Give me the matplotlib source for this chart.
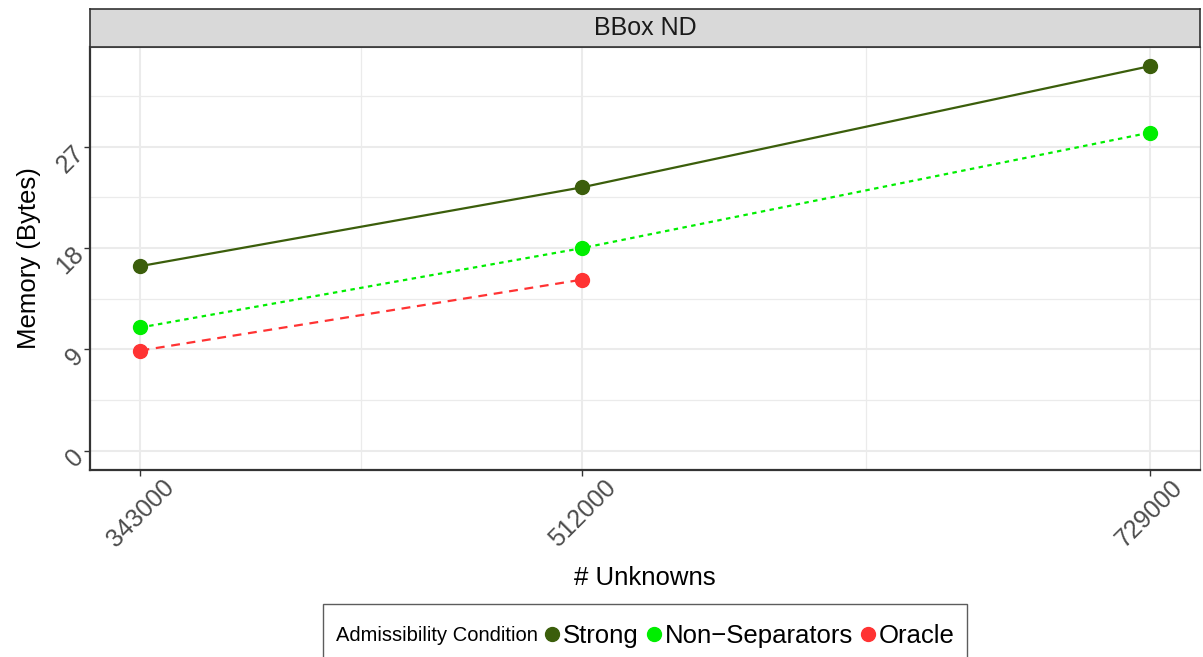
import matplotlib
matplotlib.use("Agg")
import matplotlib.pyplot as plt
from matplotlib.lines import Line2D
from matplotlib.offsetbox import DrawingArea
from matplotlib.ticker import FixedLocator
from matplotlib.transforms import ScaledTranslation

plt.rcParams["font.family"] = ["Liberation Sans", "DejaVu Sans"]

# data
unknowns = [343000, 512000, 729000]
strong = [16.4, 23.4, 34.15]
non_sep = [10.95, 18.0, 28.25]
oracle_x = [343000, 512000]
oracle = [8.9, 15.2]

y_ticks = [0, 9, 18, 27]
y_minor = [4.5, 13.5, 22.5, 31.5]
x_minor = [427500, 620500]

series = [
    ("Strong", unknowns, strong, "#3b5e0b", "-"),
    ("Non\u2212Separators", unknowns, non_sep, "#00ee00", (0, (2, 2))),
    ("Oracle", oracle_x, oracle, "#ff3333", (0, (4, 3))),
]

fig = plt.figure(figsize=(12.03, 6.57), dpi=100)
left, right = 90 / 1203, 1200 / 1203
bottom, top = 1 - 470 / 657, 1 - 47 / 657
ax = fig.add_axes([left, bottom, right - left, top - bottom])

grid_col = "#ebebeb"
ax.set_axisbelow(True)
for name, xs, ys, col, ls in series:
    ax.plot(xs, ys, color=col, linestyle=ls, linewidth=1.6, zorder=2)
    ax.plot(xs, ys, "o", color=col, markersize=10, zorder=3)

span = max(unknowns) - min(unknowns)
ax.set_xlim(min(unknowns) - 0.05 * span, max(unknowns) + 0.05 * span)
ymax = max(strong)
ax.set_ylim(-0.05 * ymax, ymax * 1.05)

ax.set_xticks(unknowns)
ax.set_xticklabels([str(u) for u in unknowns], rotation=45, ha="center",
                   va="top")
ax.set_yticks(y_ticks)
ax.set_yticklabels([str(t) for t in y_ticks], rotation=45, ha="right",
                   va="top")
ax.xaxis.set_minor_locator(FixedLocator(x_minor))
ax.yaxis.set_minor_locator(FixedLocator(y_minor))
ax.grid(True, which="major", color=grid_col, linewidth=1.5)
ax.grid(True, which="minor", color=grid_col, linewidth=0.9)
ax.tick_params(which="minor", length=0)
ax.tick_params(which="major", length=4, width=1, color="#333333",
               labelsize=18, labelcolor="#4d4d4d", pad=0)

# nudge the rotated y labels up/right like ggplot's placement
shift = ScaledTranslation(4 / 100, 6 / 100, fig.dpi_scale_trans)
for lab in ax.get_yticklabels():
    lab.set_transform(lab.get_transform() + shift)

for side in ["top", "right"]:
    ax.spines[side].set_color("#7f7f7f")
    ax.spines[side].set_linewidth(0.8)
for side in ["left", "bottom"]:
    ax.spines[side].set_color("#333333")
    ax.spines[side].set_linewidth(1.6)

ax.set_xlabel("# Unknowns", fontsize=18.5, labelpad=10)
ax.set_ylabel("Memory (Bytes)", fontsize=18.5, labelpad=8)

# facet strip
strip = fig.add_axes([left, 1 - 47 / 657, right - left, 38 / 657])
strip.set_facecolor("#d9d9d9")
strip.set_xticks([])
strip.set_yticks([])
for sp in strip.spines.values():
    sp.set_color("#333333")
    sp.set_linewidth(1.2)
strip.text(0.5, 0.5, "BBox ND", ha="center", va="center", fontsize=18,
           color="#1a1a1a", transform=strip.transAxes)

# legend: one row, title placed to the left of the entries
handles = []
labels = []
for name, xs, ys, col, ls in series:
    handles.append(Line2D([], [], marker="o", linestyle="none", color=col,
                          markersize=10))
    labels.append(name)
leg = fig.legend(handles, labels, ncol=3, loc="upper center",
                 bbox_to_anchor=((left + right) / 2, 1 - 604 / 657),
                 frameon=True, fancybox=False, edgecolor="#333333",
                 fontsize=18.5, handlelength=0.55, handletextpad=0.15,
                 columnspacing=0.3, borderpad=0.5, borderaxespad=0,
                 title="Admissibility Condition",
                 title_fontproperties={"size": 14.5})
leg.get_frame().set_linewidth(1.0)
box = leg.get_children()[0]
title_box, handle_box = box.get_children()
handle_box._children = [title_box] + handle_box.get_children()
handle_box.align = "center"
box._children = [DrawingArea(0, 5), handle_box]
box.sep = 0

fig.savefig("out.png", dpi=100)
